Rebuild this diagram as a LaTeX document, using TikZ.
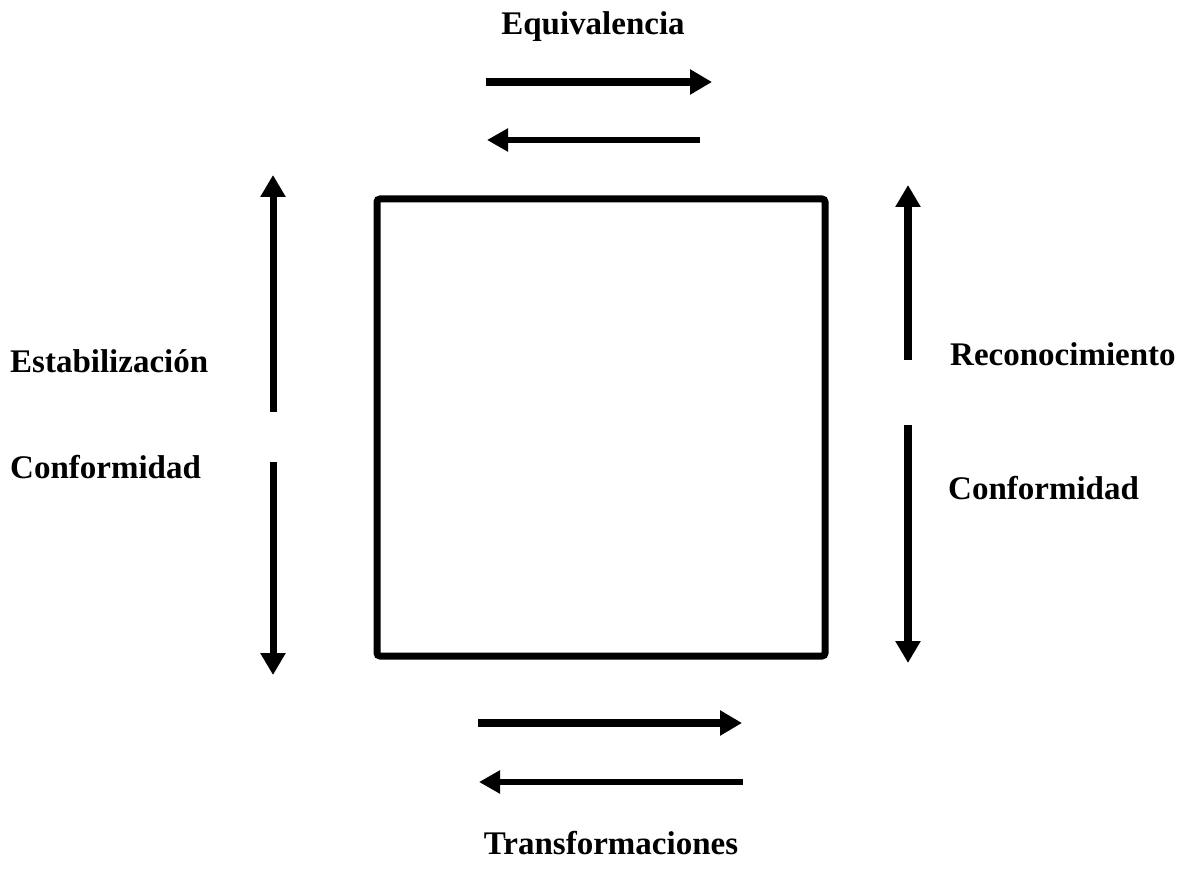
\documentclass[tikz,border=0pt]{standalone}
\usepackage{fontspec}
\setmainfont{Liberation Serif}
\usetikzlibrary{arrows.meta}
\tikzset{
  lbl/.style={font=\fontsize{33}{38}\selectfont\bfseries, inner sep=0pt},
  thickarrow/.style={line width=8pt, -{Triangle[length=22pt,width=24pt]}},
  thinarrow/.style={line width=6pt, -{Triangle[length=21pt,width=22pt]}},
  boxstyle/.style={draw, line width=7pt, rounded corners=3pt, minimum width=448pt, minimum height=457pt, inner sep=0pt}
}
\begin{document}
\begin{tikzpicture}[x=1pt,y=-1pt]
\useasboundingbox (0,0) rectangle (1187,882);
\node[boxstyle] (box) at (601,427.5) {};
% labels
\node[lbl] (equi) at (593,27) {Equivalencia};
\node[lbl] (trans) at (611,843) {Transformaciones};
\node[lbl, anchor=west] (estab) at (10,361) {Estabilización};
\node[lbl, anchor=west] (confL) at (10,467) {Conformidad};
\node[lbl, anchor=west] (recon) at (950,354) {Reconocimiento};
\node[lbl, anchor=west] (confR) at (948,488) {Conformidad};
% coordinates
\coordinate (t1s) at (486,82); \coordinate (t1e) at (712,82);
\coordinate (t2s) at (700,140); \coordinate (t2e) at (487,140);
\coordinate (b1s) at (478,723); \coordinate (b1e) at (742,723);
\coordinate (b2s) at (743,782); \coordinate (b2e) at (479,782);
\coordinate (l1s) at (273,412); \coordinate (l1e) at (273,175);
\coordinate (l2s) at (273,462); \coordinate (l2e) at (273,675);
\coordinate (r1s) at (908,360); \coordinate (r1e) at (908,185);
\coordinate (r2s) at (908,425); \coordinate (r2e) at (908,663);
\draw[thickarrow] (t1s) -- (t1e);
\draw[thinarrow] (t2s) -- (t2e);
\draw[thickarrow] (b1s) -- (b1e);
\draw[thinarrow] (b2s) -- (b2e);
\draw[thickarrow, line width=7pt] (l1s) -- (l1e);
\draw[thickarrow, line width=7pt] (l2s) -- (l2e);
\draw[thickarrow] (r1s) -- (r1e);
\draw[thickarrow] (r2s) -- (r2e);
\end{tikzpicture}
\end{document}
